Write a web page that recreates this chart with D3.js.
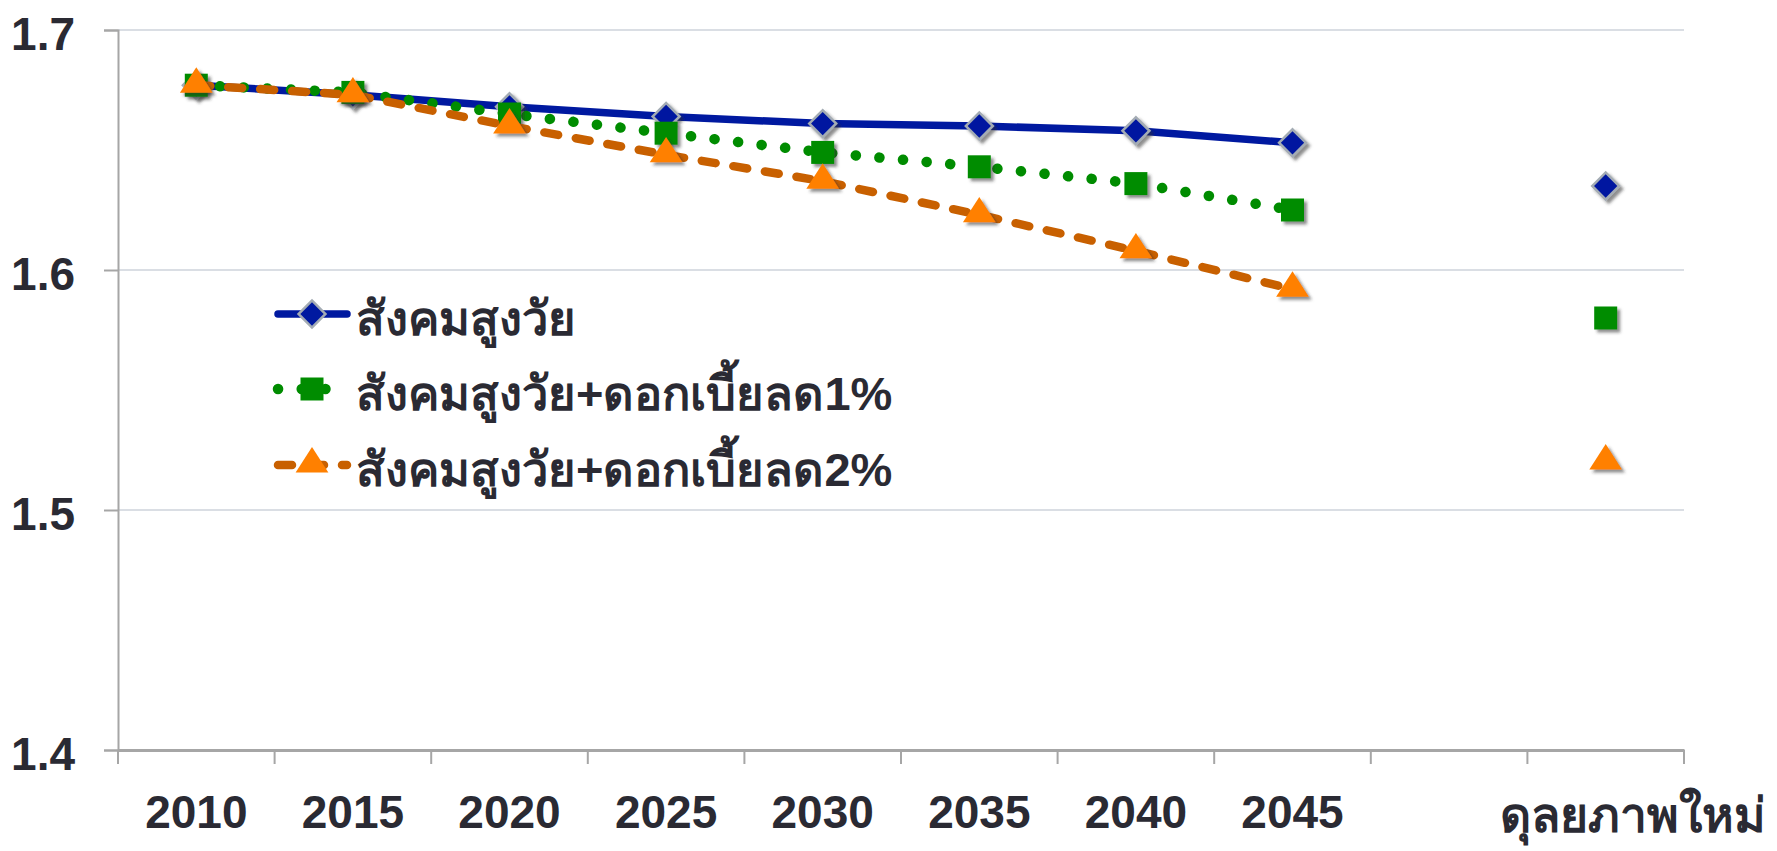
<!DOCTYPE html>
<html>
<head>
<meta charset="utf-8">
<script src="https://cdn.jsdelivr.net/npm/d3@7"></script>
<style>
  body { margin: 0; background: #fff; }
  text { font-family: "Liberation Sans", Arial, sans-serif; font-weight: bold; fill: #2a2a33; }
</style>
</head>
<body>
<div id="main"></div>
<script>
// categories (the blank slot keeps the gap before the new equilibrium)
const categories = ["2010", "2015", "2020", "2025", "2030", "2035", "2040", "2045", "gap", "eq"];
const tickLabels = ["2010", "2015", "2020", "2025", "2030", "2035", "2040", "2045", "", "ดุลยภาพใหม่"];
const yTicks = [1.4, 1.5, 1.6, 1.7];

const seriesNames = ["สังคมสูงวัย", "สังคมสูงวัย+ดอกเบี้ยลด1%", "สังคมสูงวัย+ดอกเบี้ยลด2%"];
const agingValues = [1.677, 1.673, 1.668, 1.664, 1.661, 1.660, 1.658, 1.653];
const rate1Values = [1.677, 1.674, 1.665, 1.657, 1.649, 1.643, 1.636, 1.625];
const rate2Values = [1.677, 1.673, 1.660, 1.648, 1.637, 1.623, 1.608, 1.592];
const newEquilibrium = [1.635, 1.580, 1.520];

const w = 1777, h = 851;
const padLeft = 118, padRight = 1684, padTop = 30, padBottom = 750;

const svg = d3.select("#main").append("svg").attr("width", w).attr("height", h);

const defs = svg.append("defs");
const f = defs.append("filter").attr("id", "shadow")
  .attr("x", "-50%").attr("y", "-50%").attr("width", "200%").attr("height", "200%");
f.append("feDropShadow").attr("dx", 3).attr("dy", 3).attr("stdDeviation", 1.8)
  .attr("flood-color", "#333").attr("flood-opacity", 0.55);

const xScale = d3.scaleBand().domain(categories).range([padLeft, padRight]).padding(0);
const yScale = d3.scaleLinear().domain([1.4, 1.7]).range([padBottom, padTop]);
const cx = c => xScale(c) + xScale.bandwidth() / 2;

// gridlines
svg.append("g").selectAll("line").data(yTicks.filter(d => d > 1.4)).enter().append("line")
  .attr("x1", padLeft).attr("x2", padRight)
  .attr("y1", d => yScale(d)).attr("y2", d => yScale(d))
  .attr("stroke", "#dadee4").attr("stroke-width", 2);

// y axis
const yAxis = d3.axisLeft(yScale).tickValues(yTicks).tickFormat(d3.format(".1f"))
  .tickSize(14).tickPadding(29);
const gy = svg.append("g").attr("transform", "translate(" + padLeft + ",0)").call(yAxis);
gy.select(".domain").attr("stroke", "#a6a6a6").attr("stroke-width", 2);
gy.selectAll(".tick line").attr("stroke", "#a6a6a6").attr("stroke-width", 2);
gy.selectAll("text").style("font-size", "46px").attr("dy", "0.42em")
  .style("font-family", "Liberation Sans, Arial, sans-serif").style("font-weight", "bold").attr("fill", "#2a2a33");

// x axis
const xAxis = d3.axisBottom(xScale).tickFormat((d, i) => tickLabels[i]).tickSize(0);
const gx = svg.append("g").attr("transform", "translate(0," + padBottom + ")").call(xAxis);
gx.select(".domain").attr("stroke", "#a6a6a6").attr("stroke-width", 3);
gx.selectAll("text").style("font-size", "46px").attr("y", 78).attr("dy", 0)
  .style("font-family", "Liberation Sans, Arial, sans-serif").style("font-weight", "bold").attr("fill", "#2a2a33");
gx.selectAll(".tick").filter(d => d === "eq").select("text")
  .style("font-size", "48px")
  .attr("text-anchor", "end").attr("x", 1766 - cx("eq")).attr("y", 82);

// tick marks at band edges
const edges = categories.map(c => xScale(c)).concat([padRight]);
svg.append("g").selectAll("line").data(edges).enter().append("line")
  .attr("x1", d => d).attr("x2", d => d).attr("y1", padBottom).attr("y2", padBottom + 14)
  .attr("stroke", "#a6a6a6").attr("stroke-width", 2);

// markers
const diamond = d3.symbol().type(d3.symbolSquare).size(19 * 19);
const square = d3.symbol().type(d3.symbolSquare).size(23 * 23);
const triangle = d3.symbol().type(d3.symbolTriangle).size(370);

const series = [
  { values: agingValues, color: "#0019a0", lineWidth: 7.5, dash: null, cap: "round",
    marker: g => g.append("path").attr("d", diamond).attr("transform", "rotate(45)")
      .attr("fill", "#0019a0").attr("stroke", "#a4acb4").attr("stroke-width", 2.5) },
  { values: rate1Values, color: "#008c00", lineWidth: 10.5, dash: "0.1,23.6", cap: "round",
    marker: g => g.append("path").attr("d", square).attr("fill", "#008c00") },
  { values: rate2Values, color: "#c86000", lineWidth: 8.5, dash: "14,18", cap: "round",
    marker: g => g.append("path").attr("d", triangle).attr("transform", "translate(0,-1) scale(1.12,1)").attr("fill", "#ff8000") }
];

const line = d3.line().x((d, i) => cx(categories[i])).y(d => yScale(d));

series.forEach((s, si) => {
  svg.append("path").datum(s.values)
    .attr("d", line).attr("fill", "none")
    .attr("stroke", s.color).attr("stroke-width", s.lineWidth)
    .attr("stroke-linecap", s.cap).attr("stroke-linejoin", "round")
    .attr("stroke-dasharray", s.dash);
  const pts = s.values.map((v, i) => [cx(categories[i]), yScale(v)]);
  pts.push([cx("eq"), yScale(newEquilibrium[si])]);
  pts.forEach(p => {
    const g = svg.append("g").attr("transform", "translate(" + p[0] + "," + p[1] + ")")
      .attr("filter", "url(#shadow)");
    s.marker(g);
  });
});

// legend
const legendY = [314, 389, 465];
const legend = svg.append("g");
series.forEach((s, i) => {
  const y = legendY[i];
  legend.append("line").attr("x1", 278).attr("x2", 347).attr("y1", y).attr("y2", y)
    .attr("stroke", s.color).attr("stroke-width", s.lineWidth)
    .attr("stroke-linecap", "round").attr("stroke-dasharray", s.dash);
  const g = legend.append("g").attr("transform", "translate(312," + y + ")");
  s.marker(g);
  legend.append("text").attr("x", 356).attr("y", y + 21)
    .style("font-size", "47px").text(seriesNames[i]);
});
</script>
</body>
</html>
